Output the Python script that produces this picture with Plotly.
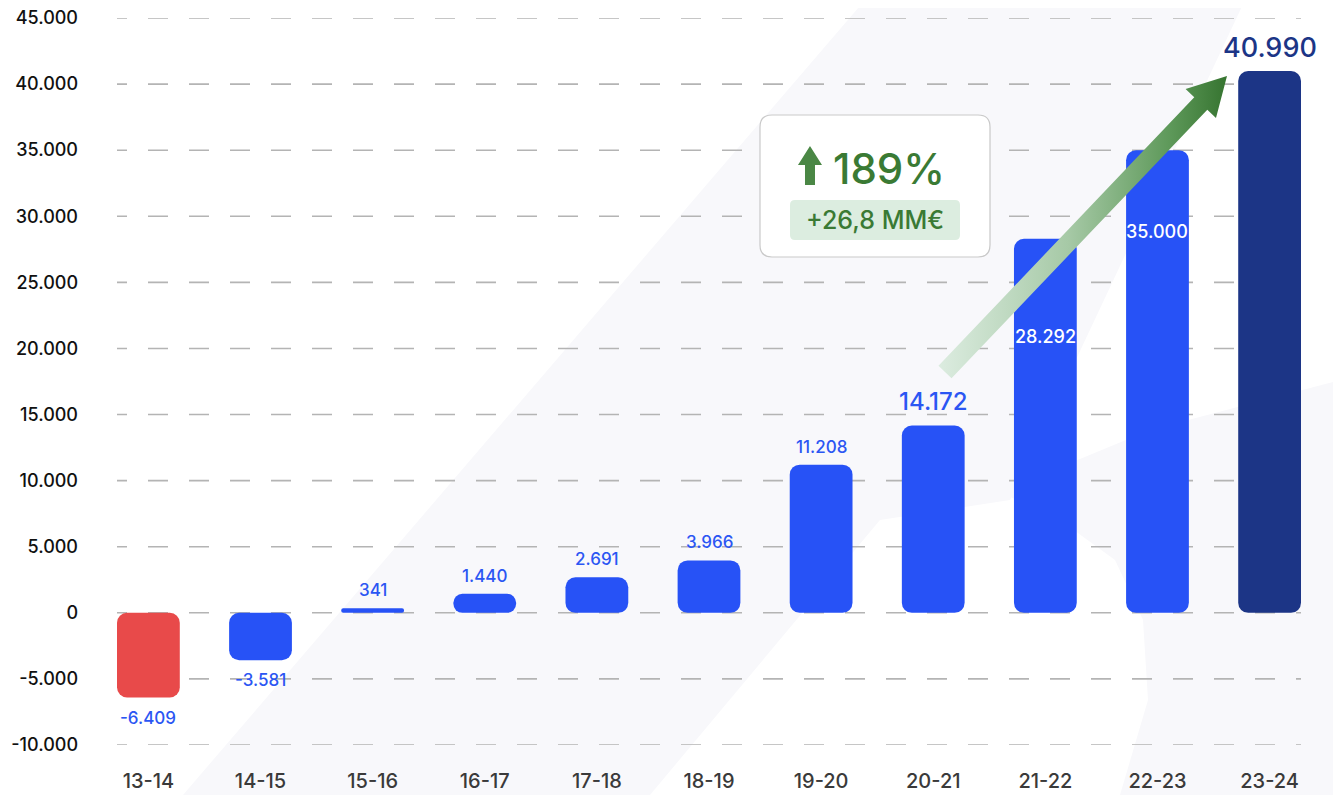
import numpy as np
import plotly.graph_objects as go

# ---------------- data ----------------
categories = ["13-14", "14-15", "15-16", "16-17", "17-18", "18-19",
              "19-20", "20-21", "21-22", "22-23", "23-24"]
values = [-6409, -3581, 341, 1440, 2691, 3966, 11208, 14172, 28292, 35000, 40990]
ytick_vals = [-10000, -5000, 0, 5000, 10000, 15000, 20000, 25000, 30000, 35000, 40000, 45000]
ytick_text = ["-10.000", "-5.000", "0", "5.000", "10.000", "15.000", "20.000",
              "25.000", "30.000", "35.000", "40.000", "45.000"]
growth_pct = "189%"
growth_abs = "+26,8 MM€"

# ---------------- style ----------------
W, H = 1341, 795
OFF = 8                                   # page body margin
L, R, T, B = 117, 1301, 18, 745           # plot area, screen pixels
XR = [-0.28, len(categories) - 1 + 0.28]
YR = [-10000, 45000]
FONT = "Inter"
BLUE = "#2752F6"
RED = "#E84A4A"
NAVY = "#1C3586"
LABEL_BLUE = "#2B56F3"
GREEN = "#3A7A34"
GRID = "#b4b4b4"
BG_SHAPE = "#f8f8fb"

idx = list(range(len(categories)))
bar_colors = [BLUE] * len(categories)
bar_colors[0] = RED
bar_colors[-1] = NAVY


def to_paper(x, y):
    return (x - L) / (R - L), (B - y) / (B - T)


def poly_path(pts):
    s = ""
    for i, (x, y) in enumerate(pts):
        px, py = to_paper(x, y)
        s += ("M" if i == 0 else "L") + f"{px:.5f},{py:.5f} "
    return s + "Z"


def rrect_path(x0, y0, x1, y1, r):
    seq = [("M", [(x0 + r, y0)]), ("L", [(x1 - r, y0)]), ("Q", [(x1, y0), (x1, y0 + r)]),
           ("L", [(x1, y1 - r)]), ("Q", [(x1, y1), (x1 - r, y1)]), ("L", [(x0 + r, y1)]),
           ("Q", [(x0, y1), (x0, y1 - r)]), ("L", [(x0, y0 + r)]), ("Q", [(x0, y0), (x0 + r, y0)])]
    s = ""
    for cmd, pts in seq:
        s += cmd + " ".join(f"{to_paper(x, y)[0]:.5f},{to_paper(x, y)[1]:.5f}" for x, y in pts) + " "
    return s + "Z"


fig = go.Figure()

# dashed gridlines (clipped to plot area so the dash phase matches)
px_unit = (XR[1] - XR[0]) / (R - L)
for v in ytick_vals:
    fig.add_trace(go.Scatter(
        x=[XR[0] - 10 * px_unit, XR[1] + 10 * px_unit], y=[v, v],
        mode="lines", line=dict(color=GRID, width=1.6, dash="20px,21px"),
        hoverinfo="skip", showlegend=False, xaxis="x", yaxis="y"))

# bars (explicit base -> all corners rounded)
fig.add_trace(go.Bar(x=idx, y=values, base=[0] * len(values),
                     marker=dict(color=bar_colors, line=dict(width=0)),
                     width=0.56, showlegend=False, hoverinfo="skip", xaxis="x2", yaxis="y2"))

# gradient arrow (pixel overlay axes)
tail = np.array([945.0, 372.0])
tip = np.array([1227.0, 76.0])
u = (tip - tail) / np.linalg.norm(tip - tail)
n = np.array([-u[1], u[0]])
head_len, head_hw, shaft_hw = 38, 21, 9
base = tip - head_len * u
pts = [tail + shaft_hw * n, base + shaft_hw * n, base + head_hw * n, tip,
       base - head_hw * n, base - shaft_hw * n, tail - shaft_hw * n, tail + shaft_hw * n]
fig.add_trace(go.Scatter(
    x=[p[0] for p in pts], y=[p[1] for p in pts], mode="lines", line=dict(width=0),
    fill="toself",
    fillgradient=dict(type="horizontal",
                      colorscale=[[0, "#dcece0"], [0.45, "#a6c9a6"], [0.8, "#5e995a"], [1, "#367430"]]),
    hoverinfo="skip", showlegend=False, xaxis="x3", yaxis="y3"))

# ---------------- annotations: bar labels ----------------
annotations = []
for i, v in enumerate(values):
    txt = f"{v:,}".replace(",", ".")
    cat = categories[i]
    a = dict(x=i, y=v, xref="x2", yref="y2", text=txt, showarrow=False,
             font=dict(family=FONT, size=17, color=LABEL_BLUE, weight=500))
    if cat in ("21-22", "22-23"):
        a.update(yanchor="middle", yshift=-98 if cat == "21-22" else -81,
                 font=dict(family=FONT, size=18, color="white", weight=500))
    elif v < 0:
        a.update(yanchor="top", yshift=-8)
    elif cat == "20-21":
        a.update(yanchor="bottom", yshift=7, font=dict(family=FONT, size=24, color=LABEL_BLUE, weight=500))
    elif cat == "23-24":
        a.update(yanchor="bottom", yshift=5, font=dict(family=FONT, size=27, color=NAVY, weight=500))
    else:
        a.update(yanchor="bottom", yshift=6)
    annotations.append(a)

annotations.append(dict(x=889, y=168, xref="x3", yref="y3", text=growth_pct, showarrow=False,
                        xanchor="center", yanchor="middle",
                        font=dict(family=FONT, size=42, color=GREEN, weight=500)))
annotations.append(dict(x=875, y=220, xref="x3", yref="y3", text=growth_abs, showarrow=False,
                        xanchor="center", yanchor="middle",
                        font=dict(family=FONT, size=25, color=GREEN, weight=500)))

# ---------------- shapes ----------------
shapes = [
    dict(type="path", xref="paper", yref="paper", layer="below", line=dict(width=0),
         fillcolor=BG_SHAPE,
         path=poly_path([(865, 0), (1245, 0), (1010, 500), (880, 520), (650, 795), (183, 795)])),
    dict(type="path", xref="paper", yref="paper", layer="below", line=dict(width=0),
         fillcolor=BG_SHAPE,
         path=poly_path([(1341, 380), (1150, 430), (1000, 492), (1060, 520), (1115, 560),
                         (1143, 620), (1148, 700), (1120, 795), (1341, 795)])),
    dict(type="path", xref="paper", yref="paper", layer="above",
         line=dict(color="#c9c9c9", width=1.2), fillcolor="white",
         path=rrect_path(760, 115, 990, 257, 12)),
    dict(type="path", xref="paper", yref="paper", layer="above",
         line=dict(width=0), fillcolor="#dcede0",
         path=rrect_path(790, 200, 960, 240, 5)),
    dict(type="path", xref="paper", yref="paper", layer="above",
         line=dict(width=0), fillcolor="#4a8745",
         path=poly_path([(810, 146), (822, 165), (815, 165), (815, 185),
                         (805, 185), (805, 165), (798, 165)])),
]

fig.update_layout(
    width=W, height=H,
    margin=dict(l=L - OFF, r=W - R + OFF, t=T - OFF, b=H - B + OFF, pad=0, autoexpand=False),
    paper_bgcolor="white", plot_bgcolor="rgba(0,0,0,0)",
    barmode="overlay", barcornerradius=10,
    showlegend=False, hovermode=False,
    font=dict(family=FONT),
    xaxis=dict(range=XR, tickvals=idx, ticktext=categories, showgrid=False, zeroline=False,
               showline=False, ticks="", ticklabelstandoff=22, automargin=False,
               ticklabeloverflow="allow",
               tickfont=dict(family=FONT, size=20, color="#3a3a3a", weight=500), fixedrange=True),
    yaxis=dict(range=YR, tickvals=ytick_vals, ticktext=ytick_text, showgrid=False, zeroline=False,
               showline=False, ticks="", ticklabelstandoff=38, automargin=False,
               ticklabeloverflow="allow",
               tickfont=dict(family=FONT, size=18, color="#111111", weight=500), fixedrange=True),
    xaxis2=dict(overlaying="x", range=XR, visible=False, fixedrange=True, automargin=False),
    yaxis2=dict(overlaying="y", range=YR, visible=False, fixedrange=True, automargin=False),
    xaxis3=dict(overlaying="x", range=[L, R], visible=False, fixedrange=True, automargin=False),
    yaxis3=dict(overlaying="y", range=[B, T], visible=False, fixedrange=True, automargin=False),
    annotations=annotations,
    shapes=shapes,
)

fig.write_html("out.html")
